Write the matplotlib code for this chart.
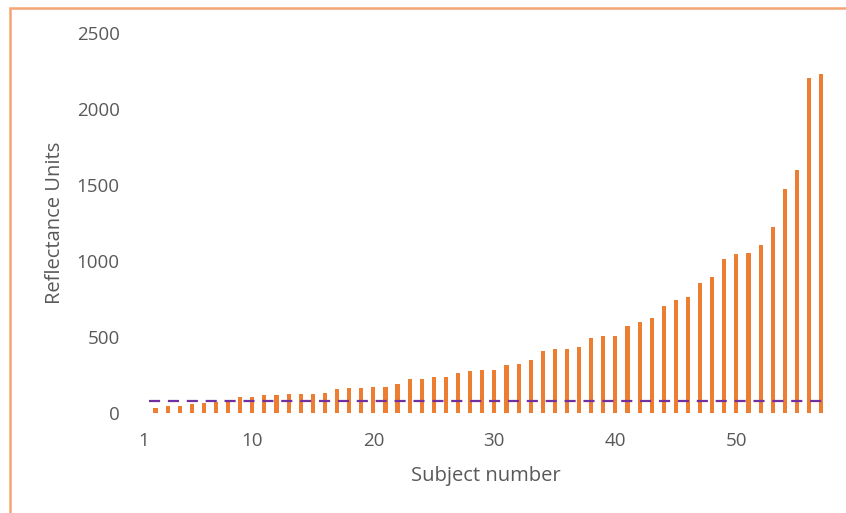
import numpy as np
import matplotlib
matplotlib.use("Agg")
import matplotlib.pyplot as plt
from matplotlib.patches import Rectangle

plt.rcParams['font.family'] = ['Open Sans', 'DejaVu Sans']

# subject numbers and measured reflectance
subjects = list(range(2, 58))
reflectance = [32, 43, 43, 54, 60, 71, 67, 100, 105,
               115, 115, 120, 120, 120, 126, 153, 159, 159, 165,
               165, 186, 223, 223, 236, 236, 258, 275, 280, 280,
               311, 319, 346, 403, 420, 420, 434, 491, 504, 504,
               572, 594, 620, 700, 743, 763, 855, 895, 1013, 1042,
               1049, 1105, 1220, 1472, 1598, 2202, 2228]
threshold = 75
xticks = [1, 10, 20, 30, 40, 50]
yticks = [0, 500, 1000, 1500, 2000, 2500]

orange = "#ED7D31"
purple = "#7030A0"
grey = "#595959"

fig = plt.figure(figsize=(8.46, 5.13), dpi=100)
# outer chart frame (only left and top edges visible in the crop)
fig.patches.append(Rectangle((10 / 846, -0.1), 1.2, (513 - 8) / 513 + 0.1,
                             transform=fig.transFigure, fill=False,
                             edgecolor="#F4A574", linewidth=1.8))

ax = fig.add_axes([143.4 / 846, 100.5 / 513, 685 / 846, 379.5 / 513])
ax.bar(subjects, reflectance, width=0.34, color=orange, zorder=2)
ax.hlines(threshold, 1.45, 57.5, colors=purple, linestyles=(0, (5, 3.5)),
          linewidth=1.6, zorder=3)

ax.set_xlim(1, 57.6)
ax.set_ylim(0, 2500)
ax.set_xticks(xticks)
ax.set_yticks(yticks)
ax.tick_params(length=0, labelsize=13.5, colors=grey)
ax.tick_params(axis="y", pad=17)
ax.tick_params(axis="x", pad=14)
for s in ax.spines.values():
    s.set_visible(False)

ax.set_xlabel("Subject number", fontsize=14.5, color=grey)
ax.set_ylabel("Reflectance Units", fontsize=14.5, color=grey)
ax.xaxis.set_label_coords(0.5, -0.14)
ax.yaxis.set_label_coords(-0.115, 0.5)

fig.savefig("out.png", dpi=100)
